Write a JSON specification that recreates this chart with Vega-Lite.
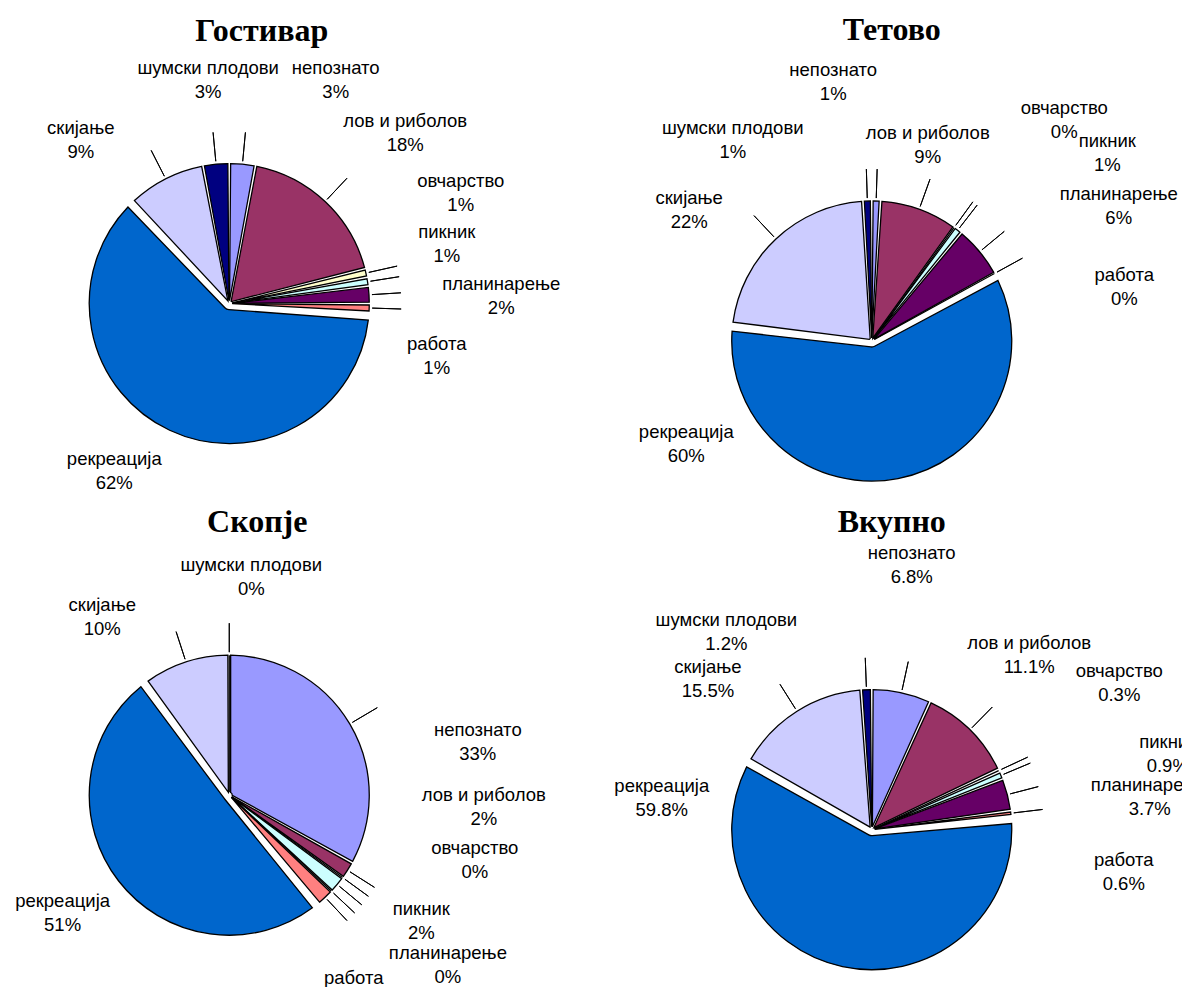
{
  "$schema": "https://vega.github.io/schema/vega-lite/v6.json",
  "autosize": "none",
  "padding": {"left": 89.25, "top": 163.6, "right": 1092.75, "bottom": 823.4},
  "background": "white",
  "data": {"values": [
    {"r":"Гостивар","i":1,"n":"непознато","v":3,"lbl":"непознато\n3%"},
    {"r":"Гостивар","i":2,"n":"лов и риболов","v":18,"lbl":"лов и риболов\n18%"},
    {"r":"Гостивар","i":3,"n":"овчарство","v":1,"lbl":"овчарство\n1%"},
    {"r":"Гостивар","i":4,"n":"пикник","v":1,"lbl":"пикник\n1%"},
    {"r":"Гостивар","i":5,"n":"планинарење","v":2,"lbl":"планинарење\n2%"},
    {"r":"Гостивар","i":6,"n":"работа","v":1,"lbl":"работа\n1%"},
    {"r":"Гостивар","i":7,"n":"рекреација","v":62,"lbl":"рекреација\n62%"},
    {"r":"Гостивар","i":8,"n":"скијање","v":9,"lbl":"скијање\n9%"},
    {"r":"Гостивар","i":9,"n":"шумски плодови","v":3,"lbl":"шумски плодови\n3%"},
    {"r":"Тетово","i":1,"n":"непознато","v":1,"lbl":"непознато\n1%"},
    {"r":"Тетово","i":2,"n":"лов и риболов","v":9,"lbl":"лов и риболов\n9%"},
    {"r":"Тетово","i":3,"n":"овчарство","v":0,"lbl":"овчарство\n0%"},
    {"r":"Тетово","i":4,"n":"пикник","v":1,"lbl":"пикник\n1%"},
    {"r":"Тетово","i":5,"n":"планинарење","v":6,"lbl":"планинарење\n6%"},
    {"r":"Тетово","i":6,"n":"работа","v":0,"lbl":"работа\n0%"},
    {"r":"Тетово","i":7,"n":"рекреација","v":60,"lbl":"рекреација\n60%"},
    {"r":"Тетово","i":8,"n":"скијање","v":22,"lbl":"скијање\n22%"},
    {"r":"Тетово","i":9,"n":"шумски плодови","v":1,"lbl":"шумски плодови\n1%"},
    {"r":"Скопје","i":1,"n":"непознато","v":33,"lbl":"непознато\n33%"},
    {"r":"Скопје","i":2,"n":"лов и риболов","v":2,"lbl":"лов и риболов\n2%"},
    {"r":"Скопје","i":3,"n":"овчарство","v":0,"lbl":"овчарство\n0%"},
    {"r":"Скопје","i":4,"n":"пикник","v":2,"lbl":"пикник\n2%"},
    {"r":"Скопје","i":5,"n":"планинарење","v":0,"lbl":"планинарење\n0%"},
    {"r":"Скопје","i":6,"n":"работа","v":2,"lbl":"работа\n2%"},
    {"r":"Скопје","i":7,"n":"рекреација","v":51,"lbl":"рекреација\n51%"},
    {"r":"Скопје","i":8,"n":"скијање","v":10,"lbl":"скијање\n10%"},
    {"r":"Скопје","i":9,"n":"шумски плодови","v":0,"lbl":"шумски плодови\n0%"},
    {"r":"Вкупно","i":1,"n":"непознато","v":6.8,"lbl":"непознато\n6.8%"},
    {"r":"Вкупно","i":2,"n":"лов и риболов","v":11.1,"lbl":"лов и риболов\n11.1%"},
    {"r":"Вкупно","i":3,"n":"овчарство","v":0.3,"lbl":"овчарство\n0.3%"},
    {"r":"Вкупно","i":4,"n":"пикник","v":0.9,"lbl":"пикник\n0.9%"},
    {"r":"Вкупно","i":5,"n":"планинарење","v":3.7,"lbl":"планинарење\n3.7%"},
    {"r":"Вкупно","i":6,"n":"работа","v":0.6,"lbl":"работа\n0.6%"},
    {"r":"Вкупно","i":7,"n":"рекреација","v":59.8,"lbl":"рекреација\n59.8%"},
    {"r":"Вкупно","i":8,"n":"скијање","v":15.5,"lbl":"скијање\n15.5%"},
    {"r":"Вкупно","i":9,"n":"шумски плодови","v":1.2,"lbl":"шумски плодови\n1.2%"}
  ]},
  "columns": 2,
  "bounds": "flush",
  "spacing": {"row": 136.6, "column": 362.5},
  "concat": [
    {
      "width": 280, "height": 280,
      "title": {"text": "Гостивар", "dx": 32.5, "offset": -70},
      "transform": [{"filter": {"field": "r", "equal": "Гостивар"}}],
      "encoding": {"theta": {"field": "v", "type": "quantitative", "stack": true}, "order": {"field": "i", "type": "quantitative"}},
      "layer": [
        {"mark": {"type": "arc", "radius": 140, "radius2": 3, "padAngle": 0.02, "stroke": "black", "strokeWidth": 1.3},
         "encoding": {"color": {"field": "n", "type": "nominal", "legend": null, "scale": {"domain": ["непознато","лов и риболов","овчарство","пикник","планинарење","работа","рекреација","скијање","шумски плодови"], "range": ["#9999FF","#993366","#FFFFCC","#CCFFFF","#660066","#FF8080","#0066CC","#CCCCFF","#000080"]}},
                      "opacity": {"condition": {"test": "datum.n === 'рекреација'", "value": 0}, "value": 1}}},
        {"mark": {"type": "arc", "radius": 140, "radius2": 6, "padAngle": 0.11, "stroke": "black", "strokeWidth": 1.3},
         "encoding": {"color": {"field": "n", "type": "nominal", "legend": null, "scale": {"domain": ["непознато","лов и риболов","овчарство","пикник","планинарење","работа","рекреација","скијање","шумски плодови"], "range": ["#9999FF","#993366","#FFFFCC","#CCFFFF","#660066","#FF8080","#0066CC","#CCCCFF","#000080"]}},
                      "opacity": {"condition": {"test": "datum.n !== 'рекреација'", "value": 0}, "value": 1}}},
        {"mark": {"type": "arc", "radius": 172, "radius2": 143, "padAngle": 3.2, "filled": false, "stroke": "black", "strokeWidth": 1},
         "encoding": {"strokeOpacity": {"condition": {"test": "datum.n === 'рекреација'", "value": 0}, "value": 1}}},
        {"mark": {"type": "text", "radius": 232.6, "dx": 84.6, "dy": -4.0}, "encoding": {"text": {"condition": {"test": "datum.n === 'непознато'", "field": "lbl"}, "value": ""}}},
        {"mark": {"type": "text", "radius": 244.5, "dx": 8.6, "dy": -3.9}, "encoding": {"text": {"condition": {"test": "datum.n === 'лов и риболов'", "field": "lbl"}, "value": ""}}},
        {"mark": {"type": "text", "radius": 249.9, "dx": -12.4, "dy": -67.6}, "encoding": {"text": {"condition": {"test": "datum.n === 'овчарство'", "field": "lbl"}, "value": ""}}},
        {"mark": {"type": "text", "radius": 224.1, "dx": -3.8, "dy": -36.5}, "encoding": {"text": {"condition": {"test": "datum.n === 'пикник'", "field": "lbl"}, "value": ""}}},
        {"mark": {"type": "text", "radius": 272, "dx": 0.5, "dy": -2.5}, "encoding": {"text": {"condition": {"test": "datum.n === 'планинарење'", "field": "lbl"}, "value": ""}}},
        {"mark": {"type": "text", "radius": 209.1, "dx": -1.5, "dy": 34.3}, "encoding": {"text": {"condition": {"test": "datum.n === 'работа'", "field": "lbl"}, "value": ""}}},
        {"mark": {"type": "text", "radius": 200.5, "dx": -29.6, "dy": -26.0}, "encoding": {"text": {"condition": {"test": "datum.n === 'рекреација'", "field": "lbl"}, "value": ""}}},
        {"mark": {"type": "text", "radius": 213.2, "dx": -51.7, "dy": 14.4}, "encoding": {"text": {"condition": {"test": "datum.n === 'скијање'", "field": "lbl"}, "value": ""}}},
        {"mark": {"type": "text", "radius": 224.1, "dx": 0, "dy": -12}, "encoding": {"text": {"condition": {"test": "datum.n === 'шумски плодови'", "field": "lbl"}, "value": ""}}}
      ]
    },
    {
      "width": 280, "height": 354.8,
      "title": {"text": "Тетово", "dx": 20, "offset": -3.9},
      "transform": [{"filter": {"field": "r", "equal": "Тетово"}}],
      "encoding": {"theta": {"field": "v", "type": "quantitative", "stack": true}, "order": {"field": "i", "type": "quantitative"}},
      "layer": [
        {"mark": {"type": "arc", "radius": 140, "radius2": 3, "padAngle": 0.02, "stroke": "black", "strokeWidth": 1.3},
         "encoding": {"color": {"field": "n", "type": "nominal", "legend": null, "scale": {"domain": ["непознато","лов и риболов","овчарство","пикник","планинарење","работа","рекреација","скијање","шумски плодови"], "range": ["#9999FF","#993366","#FFFFCC","#CCFFFF","#660066","#FF8080","#0066CC","#CCCCFF","#000080"]}},
                      "opacity": {"condition": {"test": "datum.n === 'рекреација'", "value": 0}, "value": 1}}},
        {"mark": {"type": "arc", "radius": 140, "radius2": 6, "padAngle": 0.11, "stroke": "black", "strokeWidth": 1.3},
         "encoding": {"color": {"field": "n", "type": "nominal", "legend": null, "scale": {"domain": ["непознато","лов и риболов","овчарство","пикник","планинарење","работа","рекреација","скијање","шумски плодови"], "range": ["#9999FF","#993366","#FFFFCC","#CCFFFF","#660066","#FF8080","#0066CC","#CCCCFF","#000080"]}},
                      "opacity": {"condition": {"test": "datum.n !== 'рекреација'", "value": 0}, "value": 1}}},
        {"mark": {"type": "arc", "radius": 172, "radius2": 143, "padAngle": 3.2, "filled": false, "stroke": "black", "strokeWidth": 1},
         "encoding": {"strokeOpacity": {"condition": {"test": "datum.n === 'рекреација'", "value": 0}, "value": 1}}},
        {"mark": {"type": "text", "radius": 257.7, "dx": -46.6, "dy": -13.4}, "encoding": {"text": {"condition": {"test": "datum.n === 'непознато'", "field": "lbl"}, "value": ""}}},
        {"mark": {"type": "text", "radius": 203.4, "dx": -12.9, "dy": -16.6}, "encoding": {"text": {"condition": {"test": "datum.n === 'лов и риболов'", "field": "lbl"}, "value": ""}}},
        {"mark": {"type": "text", "radius": 292.4, "dx": 20.6, "dy": 3.1}, "encoding": {"text": {"condition": {"test": "datum.n === 'овчарство'", "field": "lbl"}, "value": ""}}},
        {"mark": {"type": "text", "radius": 292.9, "dx": 56, "dy": 31.5}, "encoding": {"text": {"condition": {"test": "datum.n === 'пикник'", "field": "lbl"}, "value": ""}}},
        {"mark": {"type": "text", "radius": 276, "dx": 34.3, "dy": 29.4}, "encoding": {"text": {"condition": {"test": "datum.n === 'планинарење'", "field": "lbl"}, "value": ""}}},
        {"mark": {"type": "text", "radius": 247.3, "dx": 35.8, "dy": 53.1}, "encoding": {"text": {"condition": {"test": "datum.n === 'работа'", "field": "lbl"}, "value": ""}}},
        {"mark": {"type": "text", "radius": 65.9, "dx": -197.8, "dy": 25.8}, "encoding": {"text": {"condition": {"test": "datum.n === 'рекреација'", "field": "lbl"}, "value": ""}}},
        {"mark": {"type": "text", "radius": 220.8, "dx": -31.4, "dy": 17.5}, "encoding": {"text": {"condition": {"test": "datum.n === 'скијање'", "field": "lbl"}, "value": ""}}},
        {"mark": {"type": "text", "radius": 205.8, "dx": -132.5, "dy": -7.8}, "encoding": {"text": {"condition": {"test": "datum.n === 'шумски плодови'", "field": "lbl"}, "value": ""}}}
      ]
    },
    {
      "width": 280, "height": 280,
      "title": {"text": "Скопје", "dx": 28, "offset": -92.6},
      "transform": [{"filter": {"field": "r", "equal": "Скопје"}}],
      "encoding": {"theta": {"field": "v", "type": "quantitative", "stack": true}, "order": {"field": "i", "type": "quantitative"}},
      "layer": [
        {"mark": {"type": "arc", "radius": 140, "radius2": 3, "padAngle": 0.02, "stroke": "black", "strokeWidth": 1.3},
         "encoding": {"color": {"field": "n", "type": "nominal", "legend": null, "scale": {"domain": ["непознато","лов и риболов","овчарство","пикник","планинарење","работа","рекреација","скијање","шумски плодови"], "range": ["#9999FF","#993366","#FFFFCC","#CCFFFF","#660066","#FF8080","#0066CC","#CCCCFF","#000080"]}},
                      "opacity": {"condition": {"test": "datum.n === 'рекреација'", "value": 0}, "value": 1}}},
        {"mark": {"type": "arc", "radius": 140, "radius2": 6, "padAngle": 0.11, "stroke": "black", "strokeWidth": 1.3},
         "encoding": {"color": {"field": "n", "type": "nominal", "legend": null, "scale": {"domain": ["непознато","лов и риболов","овчарство","пикник","планинарење","работа","рекреација","скијање","шумски плодови"], "range": ["#9999FF","#993366","#FFFFCC","#CCFFFF","#660066","#FF8080","#0066CC","#CCCCFF","#000080"]}},
                      "opacity": {"condition": {"test": "datum.n !== 'рекреација'", "value": 0}, "value": 1}}},
        {"mark": {"type": "arc", "radius": 172, "radius2": 143, "padAngle": 3.2, "filled": false, "stroke": "black", "strokeWidth": 1},
         "encoding": {"strokeOpacity": {"condition": {"test": "datum.n === 'рекреација'", "value": 0}, "value": 1}}},
        {"mark": {"type": "text", "radius": 240.9, "dx": 41.2, "dy": 57.6}, "encoding": {"text": {"condition": {"test": "datum.n === 'непознато'", "field": "lbl"}, "value": ""}}},
        {"mark": {"type": "text", "radius": 221.3, "dx": 67.7, "dy": -118.6}, "encoding": {"text": {"condition": {"test": "datum.n === 'лов и риболов'", "field": "lbl"}, "value": ""}}},
        {"mark": {"type": "text", "radius": 236.5, "dx": 54.2, "dy": -86.5}, "encoding": {"text": {"condition": {"test": "datum.n === 'овчарство'", "field": "lbl"}, "value": ""}}},
        {"mark": {"type": "text", "radius": 228.2, "dx": 16.2, "dy": -31.5}, "encoding": {"text": {"condition": {"test": "datum.n === 'пикник'", "field": "lbl"}, "value": ""}}},
        {"mark": {"type": "text", "radius": 275.8, "dx": 17.6, "dy": -30.8}, "encoding": {"text": {"condition": {"test": "datum.n === 'планинарење'", "field": "lbl"}, "value": ""}}},
        {"mark": {"type": "text", "radius": 227.4, "dx": -31.2, "dy": 17.2}, "encoding": {"text": {"condition": {"test": "datum.n === 'работа'", "field": "lbl"}, "value": ""}}},
        {"mark": {"type": "text", "radius": 204.2, "dx": -5.3, "dy": -18.9}, "encoding": {"text": {"condition": {"test": "datum.n === 'рекреација'", "field": "lbl"}, "value": ""}}},
        {"mark": {"type": "text", "radius": 209, "dx": -62.4, "dy": 8.3}, "encoding": {"text": {"condition": {"test": "datum.n === 'скијање'", "field": "lbl"}, "value": ""}}},
        {"mark": {"type": "text", "radius": 218.5, "dx": 22, "dy": -12}, "encoding": {"text": {"condition": {"test": "datum.n === 'шумски плодови'", "field": "lbl"}, "value": ""}}}
      ]
    },
    {
      "width": 280, "height": 349,
      "title": {"text": "Вкупно", "dx": 20, "offset": -41.6},
      "transform": [{"filter": {"field": "r", "equal": "Вкупно"}}],
      "encoding": {"theta": {"field": "v", "type": "quantitative", "stack": true}, "order": {"field": "i", "type": "quantitative"}},
      "layer": [
        {"mark": {"type": "arc", "radius": 140, "radius2": 3, "padAngle": 0.02, "stroke": "black", "strokeWidth": 1.3},
         "encoding": {"color": {"field": "n", "type": "nominal", "legend": null, "scale": {"domain": ["непознато","лов и риболов","овчарство","пикник","планинарење","работа","рекреација","скијање","шумски плодови"], "range": ["#9999FF","#993366","#FFFFCC","#CCFFFF","#660066","#FF8080","#0066CC","#CCCCFF","#000080"]}},
                      "opacity": {"condition": {"test": "datum.n === 'рекреација'", "value": 0}, "value": 1}}},
        {"mark": {"type": "arc", "radius": 140, "radius2": 6, "padAngle": 0.11, "stroke": "black", "strokeWidth": 1.3},
         "encoding": {"color": {"field": "n", "type": "nominal", "legend": null, "scale": {"domain": ["непознато","лов и риболов","овчарство","пикник","планинарење","работа","рекреација","скијање","шумски плодови"], "range": ["#9999FF","#993366","#FFFFCC","#CCFFFF","#660066","#FF8080","#0066CC","#CCCCFF","#000080"]}},
                      "opacity": {"condition": {"test": "datum.n !== 'рекреација'", "value": 0}, "value": 1}}},
        {"mark": {"type": "arc", "radius": 172, "radius2": 143, "padAngle": 3.2, "filled": false, "stroke": "black", "strokeWidth": 1},
         "encoding": {"strokeOpacity": {"condition": {"test": "datum.n === 'рекреација'", "value": 0}, "value": 1}}},
        {"mark": {"type": "text", "radius": 267, "dx": -16.7, "dy": -15.6}, "encoding": {"text": {"condition": {"test": "datum.n === 'непознато'", "field": "lbl"}, "value": ""}}},
        {"mark": {"type": "text", "radius": 235.2, "dx": -7.4, "dy": -19.2}, "encoding": {"text": {"condition": {"test": "datum.n === 'лов и риболов'", "field": "lbl"}, "value": ""}}},
        {"mark": {"type": "text", "radius": 286.1, "dx": -11.9, "dy": -37.5}, "encoding": {"text": {"condition": {"test": "datum.n === 'овчарство'", "field": "lbl"}, "value": ""}}},
        {"mark": {"type": "text", "radius": 302.4, "dx": 17.2, "dy": 29}, "encoding": {"text": {"condition": {"test": "datum.n === 'пикник'", "field": "lbl"}, "value": ""}}},
        {"mark": {"type": "text", "radius": 277.2, "dx": 9.6, "dy": 24.9}, "encoding": {"text": {"condition": {"test": "datum.n === 'планинарење'", "field": "lbl"}, "value": ""}}},
        {"mark": {"type": "text", "radius": 245.3, "dx": 8.4, "dy": 58.8}, "encoding": {"text": {"condition": {"test": "datum.n === 'работа'", "field": "lbl"}, "value": ""}}},
        {"mark": {"type": "text", "radius": 12.7, "dx": -207.3, "dy": -56.4}, "encoding": {"text": {"condition": {"test": "datum.n === 'рекреација'", "field": "lbl"}, "value": ""}}},
        {"mark": {"type": "text", "radius": 215.2, "dx": -49, "dy": 18.9}, "encoding": {"text": {"condition": {"test": "datum.n === 'скијање'", "field": "lbl"}, "value": ""}}},
        {"mark": {"type": "text", "radius": 203.5, "dx": -137.7, "dy": -6.6}, "encoding": {"text": {"condition": {"test": "datum.n === 'шумски плодови'", "field": "lbl"}, "value": ""}}}
      ]
    }
  ],
  "config": {
    "view": {"stroke": null},
    "title": {"font": "Liberation Serif", "fontSize": 32, "fontWeight": "bold", "color": "black", "frame": "group", "anchor": "middle"},
    "text": {"font": "Liberation Sans", "fontSize": 18.5, "lineBreak": "\n", "lineHeight": 24, "align": "center", "baseline": "middle", "color": "black"}
  }
}
